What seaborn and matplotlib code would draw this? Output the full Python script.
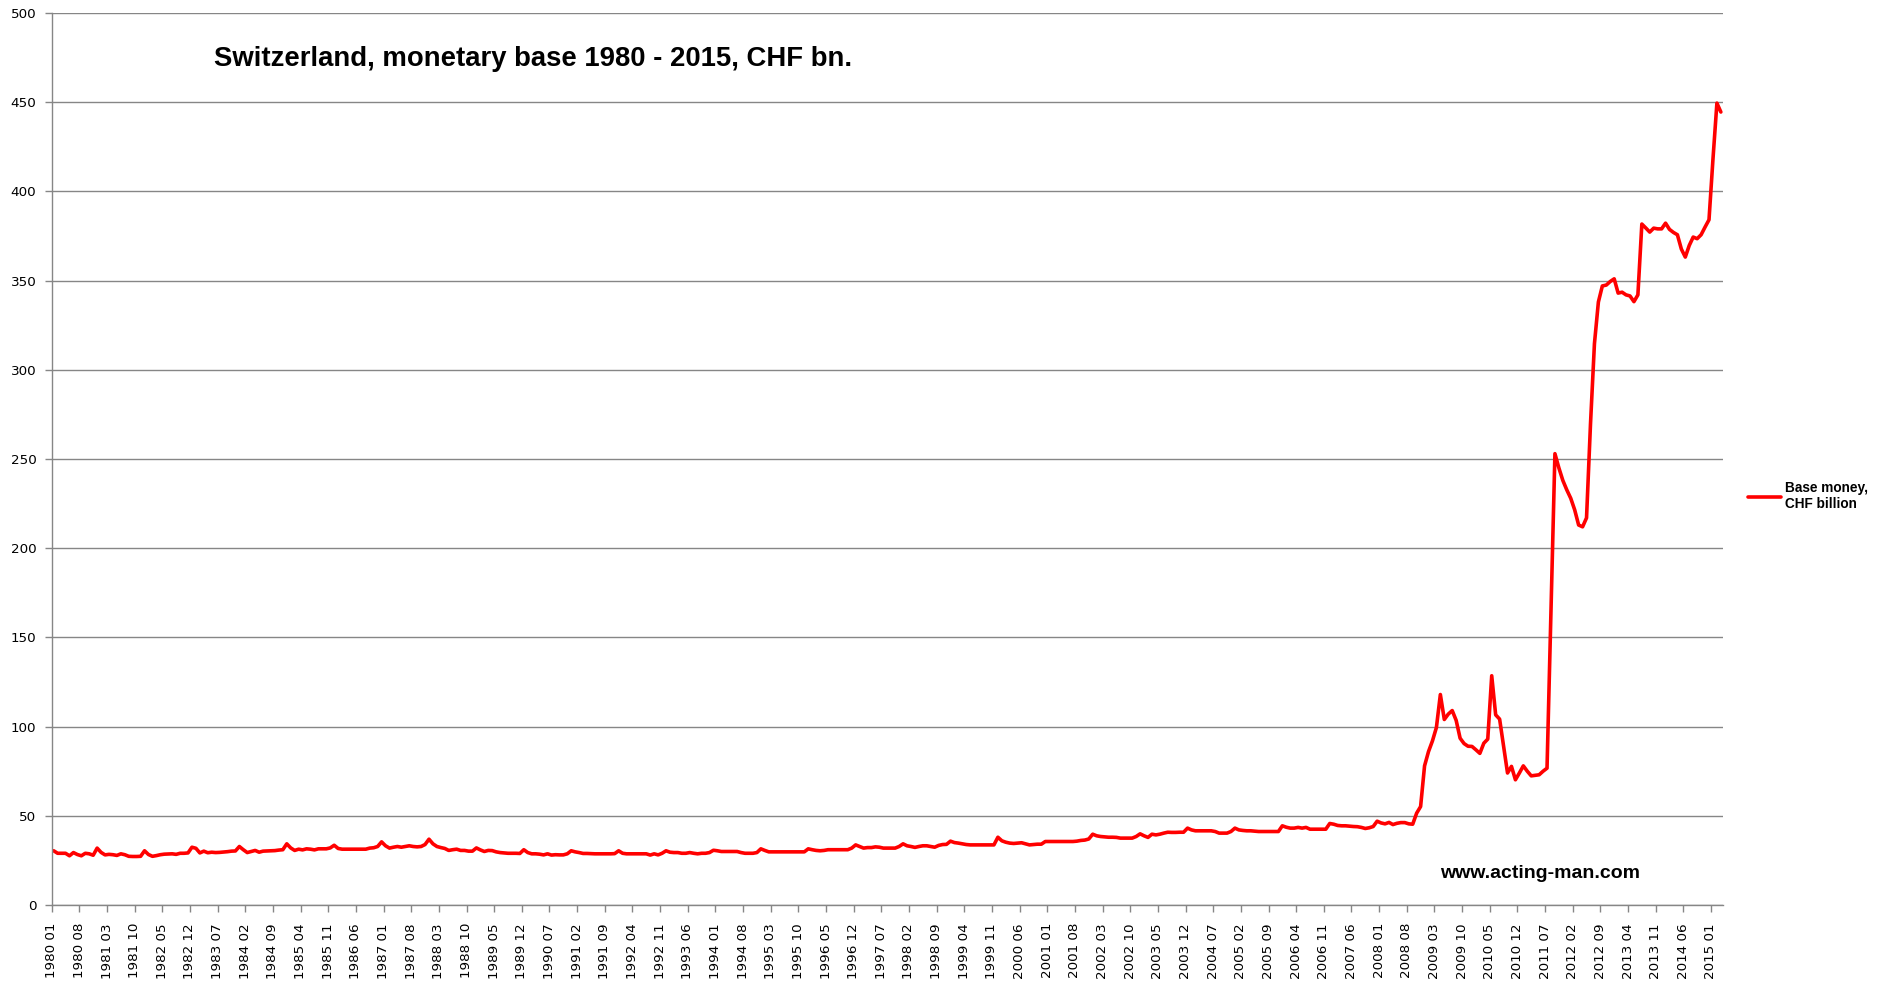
import numpy as np
import pandas as pd
import matplotlib
matplotlib.use("Agg")
import matplotlib.pyplot as plt
import seaborn as sns

# Base monetaria de Suiza, mensual, CHF bn
y1980 = [30.4, 29.0, 29.0, 29.0, 27.6, 29.4, 28.3, 27.6, 29.0, 28.7, 27.9, 31.9]
y1981 = [29.5, 28.1, 28.4, 28.2, 27.8, 28.7, 28.2, 27.3, 27.2, 27.2, 27.3, 30.4]
y1982 = [28.3, 27.3, 27.7, 28.2, 28.5, 28.6, 28.7, 28.4, 29.0, 29.0, 29.2, 32.4]
y1983 = [31.8, 29.2, 30.2, 29.3, 29.6, 29.4, 29.5, 29.7, 29.9, 30.2, 30.3, 32.8]
y1984 = [31.0, 29.4, 30.0, 30.6, 29.6, 30.2, 30.3, 30.4, 30.5, 30.8, 31.0, 34.3]
y1985 = [32.0, 30.6, 31.3, 30.9, 31.5, 31.3, 30.9, 31.5, 31.5, 31.5, 32.0, 33.5]
y1986 = [31.7, 31.3, 31.3, 31.3, 31.3, 31.3, 31.3, 31.3, 31.9, 32.1, 32.8, 35.4]
y1987 = [33.2, 31.9, 32.4, 32.8, 32.4, 32.8, 33.2, 32.8, 32.6, 32.8, 33.9, 36.9]
y1988 = [34.3, 32.8, 32.2, 31.7, 30.6, 31.0, 31.3, 30.6, 30.6, 30.2, 30.2, 32.0]
y1989 = [30.9, 30.0, 30.6, 30.5, 29.8, 29.4, 29.2, 29.0, 29.0, 29.0, 28.9, 31.0]
y1990 = [29.4, 28.7, 28.7, 28.5, 28.1, 28.7, 28.0, 28.2, 28.1, 28.1, 28.7, 30.4]
y1991 = [29.8, 29.4, 28.9, 28.9, 28.8, 28.7, 28.7, 28.7, 28.7, 28.7, 28.8, 30.4]
y1992 = [29.0, 28.7, 28.7, 28.7, 28.7, 28.7, 28.7, 28.0, 28.7, 28.1, 29.0, 30.4]
y1993 = [29.6, 29.4, 29.4, 29.0, 29.0, 29.4, 29.0, 28.7, 29.0, 29.0, 29.4, 30.7]
y1994 = [30.4, 30.0, 30.0, 30.0, 30.0, 30.0, 29.4, 29.0, 29.0, 29.0, 29.4, 31.5]
y1995 = [30.6, 29.8, 29.8, 29.8, 29.8, 29.8, 29.8, 29.8, 29.8, 29.8, 29.8, 31.5]
y1996 = [31.0, 30.6, 30.4, 30.6, 31.0, 31.0, 31.0, 31.0, 31.0, 31.0, 31.9, 33.7]
y1997 = [32.8, 31.9, 32.2, 32.2, 32.6, 32.4, 31.9, 31.9, 31.9, 31.9, 32.8, 34.3]
y1998 = [33.2, 32.8, 32.3, 32.8, 33.2, 33.2, 32.8, 32.4, 33.4, 33.9, 34.0, 35.8]
y1999 = [35.0, 34.7, 34.3, 33.9, 33.7, 33.7, 33.7, 33.7, 33.7, 33.7, 33.7, 38.0]
y2000 = [36.0, 35.2, 34.7, 34.5, 34.7, 34.9, 34.3, 33.7, 33.9, 34.1, 34.1, 35.6]
y2001 = [35.6, 35.6, 35.6, 35.6, 35.6, 35.6, 35.6, 35.8, 36.2, 36.4, 37.0, 39.7]
y2002 = [38.8, 38.4, 38.2, 38.0, 38.0, 37.9, 37.5, 37.5, 37.5, 37.5, 38.4, 39.9]
y2003 = [38.8, 37.9, 39.7, 39.3, 39.7, 40.3, 40.8, 40.7, 40.7, 40.8, 40.8, 43.1]
y2004 = [42.1, 41.6, 41.6, 41.6, 41.6, 41.6, 41.2, 40.3, 40.3, 40.3, 41.2, 43.1]
y2005 = [42.1, 41.8, 41.6, 41.6, 41.4, 41.2, 41.2, 41.2, 41.2, 41.2, 41.2, 44.4]
y2006 = [43.6, 43.1, 43.1, 43.5, 43.1, 43.5, 42.5, 42.5, 42.5, 42.5, 42.5, 45.7]
y2007 = [45.3, 44.6, 44.4, 44.4, 44.2, 44.0, 43.9, 43.5, 42.9, 43.3, 44.0, 47.0]
y2008 = [46.0, 45.5, 46.3, 45.1, 45.8, 46.2, 46.2, 45.5, 45.3, 51.5, 55.2, 78.0]
y2009 = [86.0, 92.0, 99.5, 118.0, 104.0, 107.0, 109.0, 103.5, 93.5, 90.5, 89.0, 88.9]
y2010 = [87.0, 85.0, 90.7, 93.0, 128.5, 106.6, 104.2, 89.0, 74.0, 77.7, 70.2, 74.0]
y2011 = [78.0, 75.0, 72.4, 72.7, 73.0, 75.0, 76.7, 165.0, 253.0, 245.0, 238.0, 232.7]
y2012 = [228.0, 221.5, 213.0, 212.0, 217.0, 269.5, 314.6, 338.0, 347.0, 347.5, 349.5, 351.0]
y2013 = [343.0, 343.5, 342.0, 341.4, 338.2, 342.0, 381.7, 379.5, 377.2, 379.4, 379.0, 379.0]
y2014 = [382.2, 378.7, 377.0, 375.7, 367.7, 363.2, 369.7, 374.4, 373.5, 375.7, 380.0, 384.1]
y2015 = [418.0, 449.5, 444.5]

valores = (y1980 + y1981 + y1982 + y1983 + y1984 + y1985 + y1986 + y1987 + y1988
           + y1989 + y1990 + y1991 + y1992 + y1993 + y1994 + y1995 + y1996 + y1997
           + y1998 + y1999 + y2000 + y2001 + y2002 + y2003 + y2004 + y2005 + y2006
           + y2007 + y2008 + y2009 + y2010 + y2011 + y2012 + y2013 + y2014 + y2015)

meses = pd.period_range("1980-01", periods=len(valores), freq="M")
# cada mes centrado en su categoria (como en Excel)
df = pd.DataFrame({"pos": np.arange(len(valores)) + 0.5, "base": valores})

#%%
sns.set_style("ticks")
plt.rcParams["font.family"] = ["DejaVu Sans"]
plt.rcParams["text.color"] = "black"

gris = "#868686"
fig = plt.figure(figsize=(18.87, 9.85), dpi=100)
ax = fig.add_axes([0.0274, 0.0812, 0.8856, 0.9056])

sns.lineplot(data=df, x="pos", y="base", color="#ff0000", linewidth=2.6,
             label="Base money,\nCHF billion", ax=ax)

ax.set_xlim(0, len(valores))
ax.set_ylim(0, 500)
ax.set_yticks(range(0, 501, 50))
ticks = np.arange(0, len(valores), 7)
ax.set_xticks(ticks)
ax.set_xticklabels([f"{m.year} {m.month:02d}" for m in meses[ticks]], rotation=90)
ax.set_xlabel("")
ax.set_ylabel("")

ax.yaxis.grid(True, color=gris, linewidth=1)
ax.set_axisbelow(True)
for s in ["top", "right"]:
    ax.spines[s].set_visible(False)
for s in ["left", "bottom"]:
    ax.spines[s].set_color(gris)
    ax.spines[s].set_linewidth(1)
ax.tick_params(axis="both", colors=gris, length=5, width=1, labelcolor="black",
               labelsize=9.7)
ax.tick_params(axis="x", pad=8)
ax.tick_params(axis="y", pad=6)

leg = ax.legend(loc="center left", bbox_to_anchor=(1748 / 1887, 1 - 496 / 985),
                bbox_transform=fig.transFigure, frameon=False, borderpad=0,
                borderaxespad=0, handlelength=2.4, handletextpad=0.35,
                prop={"family": "Liberation Sans", "weight": "bold", "size": 9.8})
for t in leg.get_texts():
    t.set_color("black")

fig.text(214 / 1887, 1 - 59.5 / 985, "Switzerland, monetary base 1980 - 2015, CHF bn.",
         family="Liberation Sans", weight="bold", fontsize=19.8, va="center",
         color="black")
fig.text(1440 / 1887, 1 - 873 / 985, "www.acting-man.com",
         family="Liberation Sans", weight="bold", fontsize=14, va="center",
         color="black")

fig.savefig("out.png", dpi=100)
